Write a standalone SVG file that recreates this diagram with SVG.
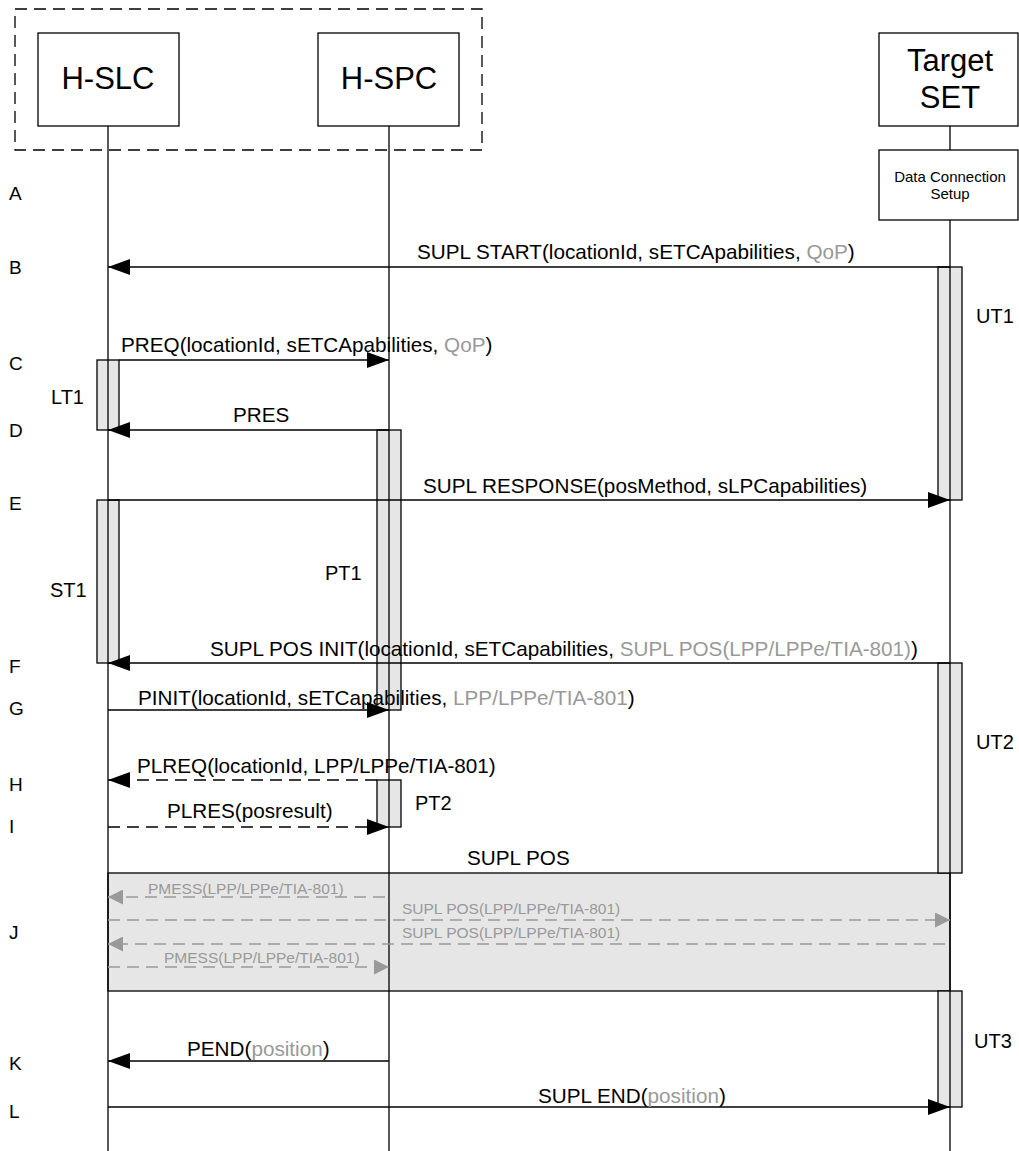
<svg xmlns="http://www.w3.org/2000/svg" width="1019" height="1151" viewBox="0 0 1019 1151">
<style>
text{font-family:"Liberation Sans",Arial,sans-serif;fill:#000}
.node{fill:#fff;stroke:#000;stroke-width:1.3}
.big{font-size:31px;text-anchor:middle}
.msg{font-size:20.7px}
.row{font-size:19px}
.tmr{font-size:20px}
.small{font-size:15.5px;fill:#999}
.g{fill:#999}
.act{fill:#e6e6e6;stroke:#000;stroke-width:1.3}
.life{stroke:#000;stroke-width:1.3;fill:none}
.arr{stroke:#000;stroke-width:1.3;fill:none;marker-end:url(#ah)}
.dash{stroke-dasharray:12 7}
.garr{stroke:#999;stroke-width:1.3;fill:none;stroke-dasharray:12 7;marker-end:url(#gh)}
</style>
<defs>
<marker id="ah" markerWidth="22" markerHeight="16" refX="22" refY="8" orient="auto" markerUnits="userSpaceOnUse"><path d="M0,0 L22,8 L0,16 z" fill="#000" stroke="none"/></marker>
<marker id="gh" markerWidth="15" markerHeight="15" refX="15" refY="7.5" orient="auto" markerUnits="userSpaceOnUse"><path d="M0,0 L15,7.5 L0,15 z" fill="#999" stroke="none"/></marker>
</defs>
<rect x="0" y="0" width="1019" height="1151" fill="#fff"/>
<rect x="15" y="9" width="467" height="141" fill="none" stroke="#000" stroke-width="1.3" stroke-dasharray="12 7"/>
<g id="J-box"><rect x="108" y="873" width="842" height="118" class="act"/></g>
<g id="activations">
<rect x="97" y="360" width="22" height="70" class="act"/>
<rect x="97" y="500" width="22" height="163" class="act"/>
<rect x="377" y="430" width="24" height="280" class="act"/>
<rect x="377" y="780" width="24" height="47" class="act"/>
<rect x="938" y="267" width="24" height="233" class="act"/>
<rect x="938" y="663" width="24" height="210" class="act"/>
<rect x="938" y="991" width="24" height="116" class="act"/>
</g>
<g id="lifelines">
<line x1="108" y1="126" x2="108" y2="1151" class="life"/>
<line x1="389" y1="126" x2="389" y2="1151" class="life"/>
<line x1="950" y1="126" x2="950" y2="150" class="life"/>
<line x1="950" y1="220" x2="950" y2="1151" class="life"/>
</g>
<g id="H-SLC"><rect x="38" y="33" width="141" height="93" class="node"/><text x="108" y="89" class="big">H-SLC</text></g>
<g id="H-SPC"><rect x="318" y="33" width="141" height="93" class="node"/><text x="389" y="89" class="big">H-SPC</text></g>
<g id="Target-SET"><rect x="879" y="33" width="139" height="93" class="node"/><text x="950" y="71" class="big">Target</text><text x="950" y="108" class="big">SET</text></g>
<g id="Data-Connection-Setup"><rect x="879" y="150" width="139" height="70" class="node"/><text x="950" y="182" font-size="15" text-anchor="middle">Data Connection</text><text x="950" y="199" font-size="15" text-anchor="middle">Setup</text></g>
<g id="connectors">
<line x1="950" y1="267" x2="108" y2="267" class="arr"/>
<line x1="119" y1="360" x2="389" y2="360" class="arr"/>
<line x1="389" y1="430" x2="108" y2="430" class="arr"/>
<line x1="108" y1="500" x2="950" y2="500" class="arr"/>
<line x1="950" y1="663" x2="108" y2="663" class="arr"/>
<line x1="108" y1="710" x2="389" y2="710" class="arr"/>
<line x1="377" y1="780" x2="108" y2="780" class="arr dash"/>
<line x1="108" y1="827" x2="389" y2="827" class="arr dash"/>
<line x1="385" y1="897" x2="108" y2="897" class="garr"/>
<line x1="108" y1="920" x2="950" y2="920" class="garr"/>
<line x1="945" y1="944" x2="108" y2="944" class="garr"/>
<line x1="108" y1="967" x2="389" y2="967" class="garr"/>
<line x1="389" y1="1061" x2="108" y2="1061" class="arr"/>
<line x1="108" y1="1107" x2="950" y2="1107" class="arr"/>
</g>
<g id="labels">
<text x="417" y="259" class="msg">SUPL START(locationId, sETCApabilities, <tspan class="g">QoP</tspan>)</text>
<text x="121" y="352" class="msg">PREQ(locationId, sETCApabilities, <tspan class="g">QoP</tspan>)</text>
<text x="233" y="422" class="msg">PRES</text>
<text x="423" y="493" class="msg">SUPL RESPONSE(posMethod, sLPCapabilities)</text>
<text x="210" y="656" class="msg">SUPL POS INIT(locationId, sETCapabilities, <tspan class="g">SUPL POS(LPP/LPPe/TIA-801)</tspan>)</text>
<text x="138" y="705" class="msg">PINIT(locationId, sETCapabilities, <tspan class="g">LPP/LPPe/TIA-801</tspan>)</text>
<text x="137" y="773" class="msg">PLREQ(locationId, LPP/LPPe/TIA-801)</text>
<text x="167" y="818" class="msg">PLRES(posresult)</text>
<text x="467" y="865" class="msg">SUPL POS</text>
<text x="148" y="894" class="small">PMESS(LPP/LPPe/TIA-801)</text>
<text x="402" y="914" class="small">SUPL POS(LPP/LPPe/TIA-801)</text>
<text x="402" y="938" class="small">SUPL POS(LPP/LPPe/TIA-801)</text>
<text x="164" y="963" class="small">PMESS(LPP/LPPe/TIA-801)</text>
<text x="187" y="1056" class="msg">PEND(<tspan class="g">position</tspan>)</text>
<text x="538" y="1103" class="msg">SUPL END(<tspan class="g">position</tspan>)</text>
</g>
<g id="timers">
<text x="51" y="404" class="tmr">LT1</text>
<text x="50" y="597" class="tmr">ST1</text>
<text x="325" y="580" class="tmr">PT1</text>
<text x="415" y="810" class="tmr">PT2</text>
<text x="976" y="323" class="tmr">UT1</text>
<text x="976" y="749" class="tmr">UT2</text>
<text x="974" y="1048" class="tmr">UT3</text>
</g>
<g id="rows">
<text x="9" y="200" class="row">A</text>
<text x="9" y="274" class="row">B</text>
<text x="9" y="370" class="row">C</text>
<text x="9" y="437" class="row">D</text>
<text x="9" y="510" class="row">E</text>
<text x="9" y="673" class="row">F</text>
<text x="9" y="715" class="row">G</text>
<text x="9" y="791" class="row">H</text>
<text x="9" y="833" class="row">I</text>
<text x="9" y="939" class="row">J</text>
<text x="9" y="1070" class="row">K</text>
<text x="9" y="1118" class="row">L</text>
</g>
</svg>
